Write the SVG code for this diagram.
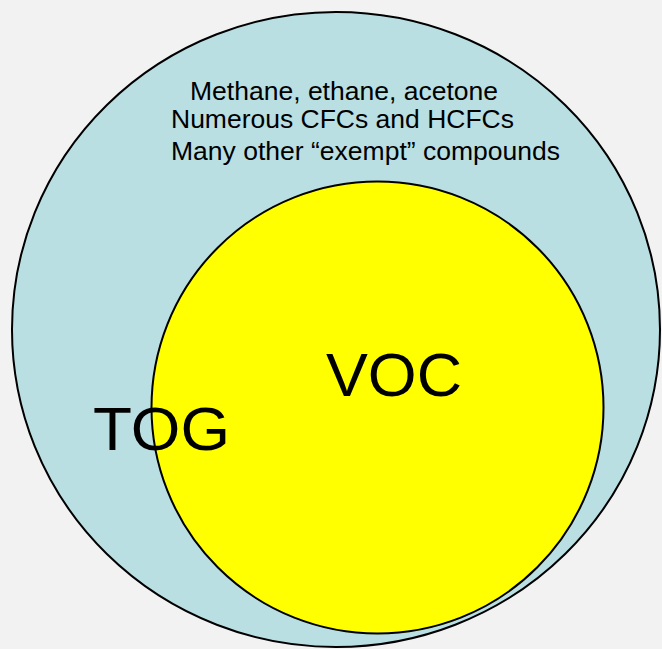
<svg xmlns="http://www.w3.org/2000/svg" width="662" height="649" viewBox="0 0 662 649">
  <style>
    .set { stroke: #000; stroke-width: 2; }
    .small { font-family: "Liberation Sans", Arial, sans-serif; font-size: 26px; fill: #000; }
    .big { font-family: "Liberation Sans", Arial, sans-serif; font-size: 62px; fill: #000; }
  </style>
  <rect width="662" height="649" fill="#f2f2f2"/>
  <g id="tog">
    <ellipse class="set" cx="336" cy="329.5" rx="324" ry="317.5" fill="#b9dfe3"/>
  </g>
  <g id="exempt-list">
    <text class="small" x="190" y="100" textLength="308" lengthAdjust="spacingAndGlyphs">Methane, ethane, acetone</text>
    <text class="small" x="171" y="128" textLength="343" lengthAdjust="spacingAndGlyphs">Numerous CFCs and HCFCs</text>
    <text class="small" x="171" y="160" textLength="389" lengthAdjust="spacingAndGlyphs">Many other “exempt” compounds</text>
  </g>
  <g id="voc">
    <ellipse class="set" cx="377.5" cy="407.5" rx="226" ry="226" fill="#ffff00"/>
    <text class="big" x="326" y="396" textLength="136" lengthAdjust="spacingAndGlyphs">VOC</text>
  </g>
  <g id="tog-label">
    <text class="big" x="93" y="450" textLength="137" lengthAdjust="spacingAndGlyphs">TOG</text>
  </g>
</svg>
